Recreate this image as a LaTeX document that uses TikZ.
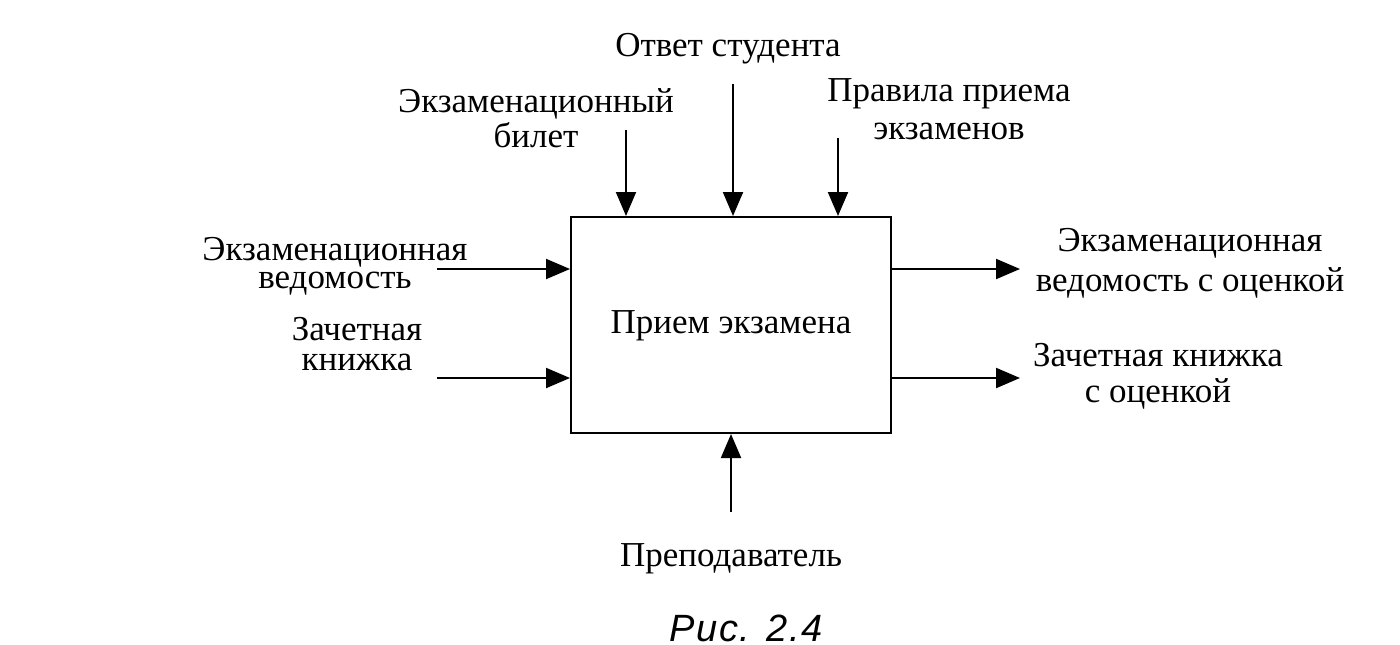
\documentclass[tikz,border=0pt]{standalone}
\usepackage{fontspec}
\setmainfont{Liberation Serif}
\newfontfamily\capfont[LetterSpace=4]{Liberation Sans}
\usetikzlibrary{arrows.meta}

\begin{document}
\begin{tikzpicture}[x=0.5pt,y=0.5pt,yscale=-1,xscale=1,
  lbl/.style={inner sep=0pt,anchor=south,text depth=0pt,align=center,font=\fontsize{17.5}{21}\selectfont},
  flow/.style={line width=1pt,-{Triangle[length=12pt,width=10pt]}}]
\useasboundingbox (0,0) rectangle (1400,644);

%Shape: Box
\node [draw,line width=1pt,minimum width=160pt,minimum height=108pt,inner sep=0pt] (box) at (731,325) {};
% Text Node
\node [lbl,anchor=base] (tBox) at (731,333) {Прием экзамена};

% Free ends
\coordinate (inTicket) at (626,130);
\coordinate (inAnswer) at (733,84);
\coordinate (inRules) at (838,138);
\coordinate (inSheet) at (437,269);
\coordinate (inBook) at (437,378);
\coordinate (outSheet) at (1020,269);
\coordinate (outBook) at (1020,378);
\coordinate (inTeacher) at (731,512);

% Arrows
\draw [flow] (inTicket) -- (inTicket |- box.north);
\draw [flow] (inAnswer) -- (inAnswer |- box.north);
\draw [flow] (inRules) -- (inRules |- box.north);
\draw [flow] (inSheet) -- (inSheet -| box.west);
\draw [flow] (inBook) -- (inBook -| box.west);
\draw [flow] (outSheet -| box.east) -- (outSheet);
\draw [flow] (outBook -| box.east) -- (outBook);
\draw [flow] (inTeacher) -- (inTeacher |- box.south);

% Text Node
\node [lbl] (tAnswer) at (728,57) {Ответ студента};
% Text Node
\node [lbl] (tTicket) at (536,148) {Экзаменационный\\[-3.5pt]билет};
% Text Node
\node [lbl] (tRules) at (949,140) {Правила приема\\[-2pt]экзаменов};
% Text Node
\node [lbl] (tSheet) at (335,289) {Экзаменационная\\[-7pt]ведомость};
% Text Node
\node [lbl] (tBook) at (357,371) {Зачетная\\[-6pt]книжка};
% Text Node
\node [lbl] (tSheetOut) at (1190,292) {Экзаменационная\\[-1pt]ведомость с оценкой};
% Text Node
\node [lbl] (tBookOut) at (1158,403) {Зачетная книжка\\[-3pt]с оценкой};
% Text Node
\node [lbl] (tTeacher) at (731,567) {Преподаватель};
% Text Node
\node [lbl,font=\capfont\itshape\fontsize{19}{22}\selectfont] (tCaption) at (746,642) {Рис. 2.4};

\end{tikzpicture}
\end{document}
